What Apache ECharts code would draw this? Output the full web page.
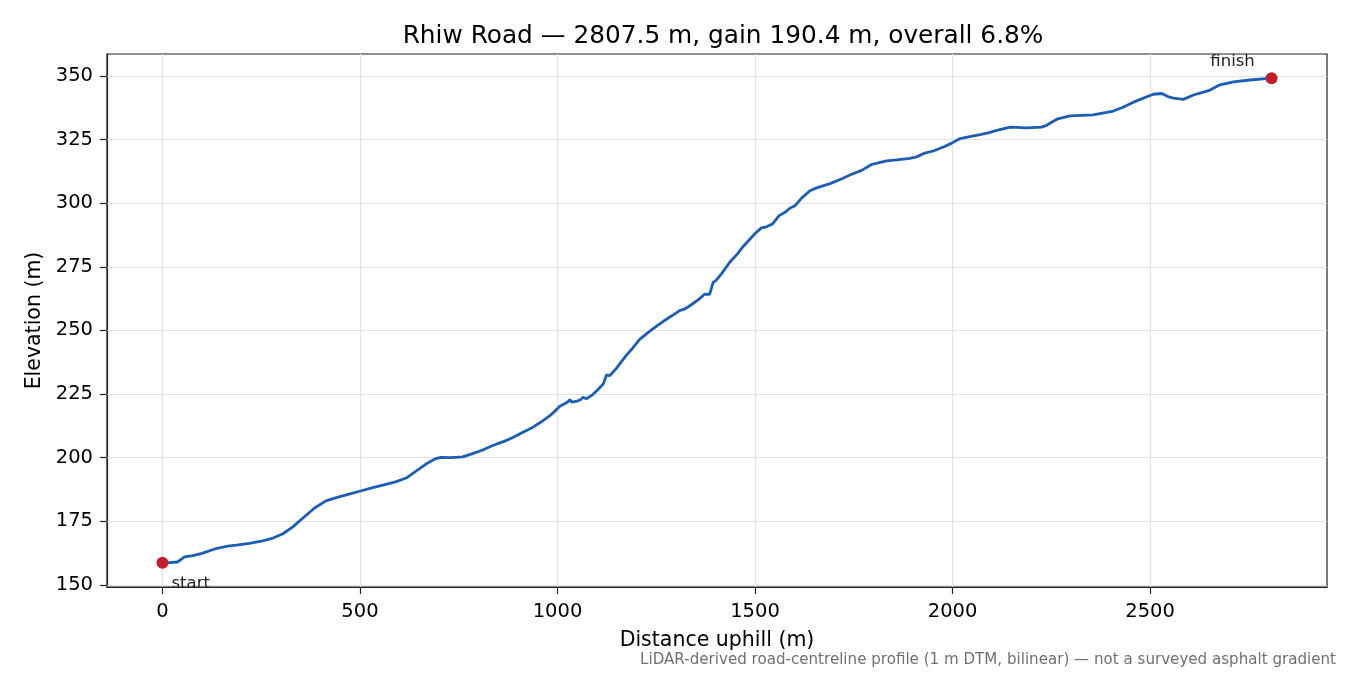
<!DOCTYPE html>
<html>
<head>
<meta charset="utf-8">
<script src="https://cdn.jsdelivr.net/npm/echarts@6/dist/echarts.min.js"></script>
<style>
html,body{margin:0;padding:0;background:#fff;}
#chart{width:1350px;height:675px;}
</style>
</head>
<body>
<div id="chart"></div>
<script>
// ---- data ----
const distance = [0,20,38,56,77,100,136,165,187,220,254,280,305,330,355,385,414,440,470,499,530,558,590,617,640,668,690,705,730,760,785,811,830,845,865,887,910,938,960,980,995,1005,1026,1031,1036,1050,1060,1065,1073,1090,1105,1116,1124,1132,1149,1174,1190,1208,1233,1250,1267,1290,1301,1310,1322,1335,1356,1373,1378,1385,1394,1402,1415,1436,1455,1470,1499,1516,1529,1544,1561,1576,1588,1601,1618,1639,1656,1690,1723,1740,1770,1795,1812,1833,1858,1892,1909,1930,1951,1977,1998,2019,2044,2070,2090,2112,2146,2188,2225,2238,2264,2297,2356,2407,2430,2458,2508,2530,2545,2559,2584,2610,2648,2677,2711,2753,2807.5];
const elevation = [158.7,158.8,159.0,161.0,161.5,162.4,164.3,165.2,165.6,166.3,167.3,168.4,170.1,172.8,176.2,180.2,183.0,184.3,185.6,186.8,188.1,189.2,190.5,192.0,194.5,197.6,199.5,200.1,200.0,200.3,201.6,203.0,204.4,205.3,206.4,207.9,209.8,212.0,214.2,216.4,218.5,220.1,221.9,222.8,221.8,222.2,223.0,223.8,223.1,224.9,227.2,229.0,232.5,232.2,235.1,240.2,243.0,246.5,249.6,251.6,253.5,255.8,256.9,257.9,258.4,259.7,262.0,264.3,265.0,264.2,268.9,269.8,272.2,276.8,280.0,283.0,287.9,290.3,290.7,291.8,295.1,296.4,298.0,299.0,302.0,304.9,306.0,307.7,309.8,311.1,312.9,315.2,315.8,316.6,317.0,317.6,318.2,319.7,320.5,322.1,323.6,325.4,326.2,326.9,327.6,328.6,329.9,329.6,329.9,330.6,333.0,334.3,334.7,336.2,337.6,339.7,342.8,343.1,341.9,341.3,340.8,342.5,344.2,346.5,347.7,348.4,349.1];
const xTicks = [0,500,1000,1500,2000,2500];
const yTicks = [150,175,200,225,250,275,300,325,350];
const markerNames = ['start','finish'];
const titleText = 'Rhiw Road \u2014 2807.5 m, gain 190.4 m, overall 6.8%';
const xName = 'Distance uphill (m)';
const yName = 'Elevation (m)';
const footnote = 'LiDAR-derived road-centreline profile (1 m DTM, bilinear) \u2014 not a surveyed asphalt gradient';

// ---- build ----
const FONT = 'DejaVu Sans';
const profile = distance.map((d,i)=>[d, elevation[i]]);
const n = distance.length;
const xMinD = distance[0], xMaxD = distance[n-1];
const eMin = Math.min(...elevation), eMax = Math.max(...elevation);
const xPad = (xMaxD - xMinD) * 0.05, yPad = (eMax - eMin) * 0.05;

const markerPts = [
  {value:[distance[0], elevation[0]], name: markerNames[0],
   label:{show:true, formatter:'{b}', position:'right', distance:5, offset:[-2,21], color:'#222', fontSize:16.5, fontFamily:FONT}},
  {value:[distance[n-1], elevation[n-1]], name: markerNames[1],
   label:{show:true, formatter:'{b}', position:'top', distance:5, offset:[-39,3], color:'#222', fontSize:16.5, fontFamily:FONT}}
];

const gridColor = '#e2e2e2';
const gridLines = xTicks.map(v=>({xAxis:v})).concat(yTicks.map(v=>({yAxis:v})));
const fmt = v => String(v);

const chart = echarts.init(document.getElementById('chart'), null, {renderer:'canvas'});
chart.setOption({
  animation:false,
  backgroundColor:'#fff',
  textStyle:{fontFamily:FONT},
  title:{text:titleText, left:718, top:19, textAlign:'center',
    textStyle:{fontFamily:FONT, fontSize:24.8, fontWeight:'normal', color:'#000'}},
  grid:{left:107, right:23, top:54, bottom:88, show:true, borderColor:'#222', borderWidth:1.2, backgroundColor:'transparent'},
  xAxis:{type:'value', min:xMinD - xPad, max:xMaxD + xPad,
    name:xName, nameLocation:'middle', nameGap:43,
    nameTextStyle:{fontFamily:FONT, fontSize:20.5, color:'#000'},
    axisLine:{show:true, onZero:false, lineStyle:{color:'#222', width:1.2}},
    axisTick:{show:true, customValues:xTicks, length:7, inside:false, lineStyle:{color:'#222', width:1.2}},
    axisLabel:{show:true, customValues:xTicks, formatter:fmt, margin:15, fontSize:19.5, fontFamily:FONT, color:'#000'},
    splitLine:{show:false}},
  yAxis:{type:'value', min:eMin - yPad, max:eMax + yPad,
    name:yName, nameLocation:'middle', nameGap:62,
    nameTextStyle:{fontFamily:FONT, fontSize:20.5, color:'#000'},
    axisLine:{show:true, onZero:false, lineStyle:{color:'#222', width:1.2}},
    axisTick:{show:true, customValues:yTicks, length:7, inside:false, lineStyle:{color:'#222', width:1.2}},
    axisLabel:{show:true, customValues:yTicks, formatter:fmt, margin:14, fontSize:19.5, fontFamily:FONT, color:'#000'},
    splitLine:{show:false}},
  series:[
    {type:'line', data:[], z:1, silent:true,
     markLine:{z:1, silent:true, symbol:'none', animation:false, label:{show:false},
       lineStyle:{color:gridColor, width:1.2, type:'solid'}, emphasis:{disabled:true},
       data:gridLines}},
    {type:'line', data:profile, z:3, showSymbol:false, smooth:false,
     lineStyle:{color:'#1c5db5', width:2.8}, silent:true},
    {type:'scatter', data:markerPts, z:5, symbolSize:12, silent:true,
     itemStyle:{color:'#c41e2a', opacity:1}}
  ],
  graphic:[
    {type:'text', right:14, top:653, silent:true,
     style:{text:footnote, fontFamily:FONT, fontSize:15.1, fill:'#707070'}}
  ]
});
</script>
</body>
</html>
